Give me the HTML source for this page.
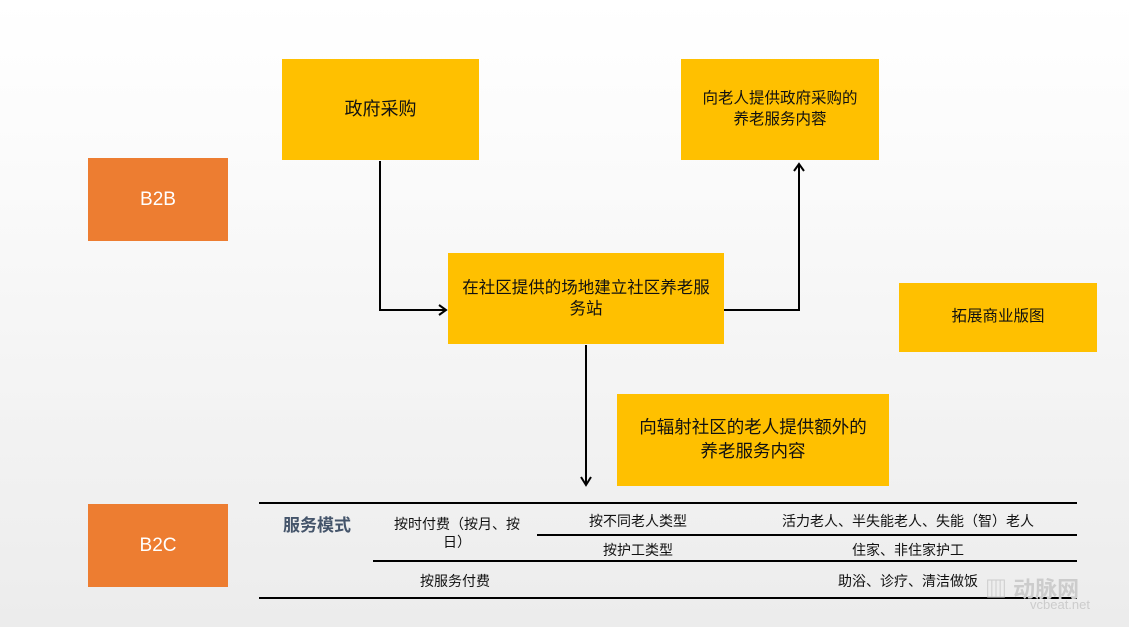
<!DOCTYPE html>
<html><head><meta charset="utf-8"><style>
body{margin:0;width:1129px;height:627px;overflow:hidden;background:linear-gradient(#ffffff 0%,#fafafa 30%,#ececec 100%);font-family:"Liberation Sans","Noto Sans CJK SC",sans-serif;position:relative}
.b{position:absolute;display:flex;align-items:center;justify-content:center;text-align:center;color:#111;line-height:1.35}
.y{background:#FFC000}
.o{background:#ED7D31;color:#fff;font-size:19px}
.t{position:absolute;font-size:14px;color:#111;text-align:center}
.l{position:absolute;height:2px;background:#000}
</style></head><body>
<div class="b y" style="left:282px;top:59px;width:197px;height:101px;font-size:18px">政府采购</div>
<div class="b y" style="left:681px;top:59px;width:198px;height:101px;font-size:15.5px">向老人提供政府采购的<br>养老服务内蓉</div>
<div class="b o" style="left:88px;top:158px;width:140px;height:83px">B2B</div>
<div class="b y" style="left:448px;top:253px;width:276px;height:91px;font-size:16.5px;line-height:1.25">在社区提供的场地建立社区养老服<br>务站</div>
<div class="b y" style="left:899px;top:283px;width:198px;height:69px;font-size:15.5px">拓展商业版图</div>
<div class="b y" style="left:617px;top:394px;width:272px;height:92px;font-size:17.5px">向辐射社区的老人提供额外的<br>养老服务内容</div>
<div class="b o" style="left:88px;top:504px;width:140px;height:83px">B2C</div>
<svg width="1129" height="627" style="position:absolute;left:0;top:0" fill="none" stroke="#000" stroke-width="2">
<polyline points="380,161 380,310 446,310"/><polyline points="439,305 446,310 439,315"/>
<polyline points="724,310 799,310 799,164"/><polyline points="794,171 799,164 804,171"/>
<line x1="586" y1="345" x2="586" y2="484"/><polyline points="581,477 586,485 591,477"/>
</svg>
<div class="l" style="left:259px;top:502px;width:818px"></div>
<div class="l" style="left:537px;top:534px;width:540px"></div>
<div class="l" style="left:373px;top:560px;width:704px"></div>
<div class="l" style="left:259px;top:597px;width:818px"></div>
<div class="t" style="left:270px;top:511px;width:94px;font-size:17px;font-weight:bold;color:#44546A">服务模式</div>
<div class="t" style="left:383px;top:515px;width:148px;line-height:18px">按时付费（按月、按<br>日）</div>
<div class="t" style="left:560px;top:511px;width:156px">按不同老人类型</div>
<div class="t" style="left:758px;top:511px;width:300px">活力老人、半失能老人、失能（智）老人</div>
<div class="t" style="left:560px;top:540px;width:156px">按护工类型</div>
<div class="t" style="left:758px;top:540px;width:300px">住家、非住家护工</div>
<div class="t" style="left:380px;top:571px;width:150px">按服务付费</div>
<div class="t" style="left:758px;top:571px;width:300px">助浴、诊疗、清洁做饭</div>
<div style="position:absolute;left:985px;top:572px;font-size:22px;color:#ccc;font-weight:bold">▥ 动脉网</div>
<div style="position:absolute;left:1030px;top:597px;font-size:13px;color:#ccc">vcbeat.net</div>
</body></html>
